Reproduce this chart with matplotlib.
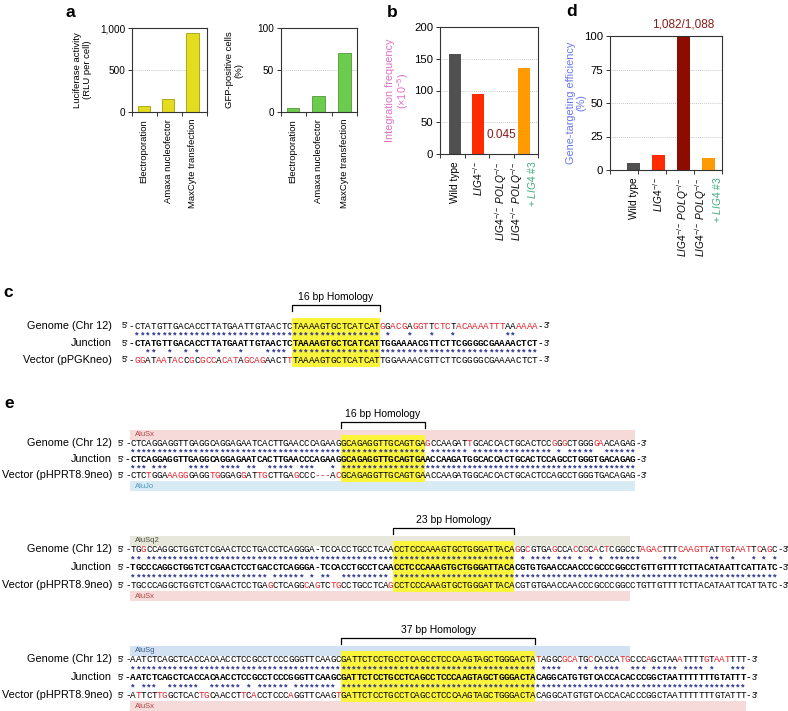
import numpy as np
import matplotlib
matplotlib.use('Agg')
import matplotlib.pyplot as plt
from matplotlib import transforms
from matplotlib.patches import Rectangle

plt.rcParams['font.family'] = ['Liberation Sans', 'DejaVu Sans']
plt.rcParams['mathtext.fontset'] = 'custom'
plt.rcParams['mathtext.rm'] = 'Liberation Sans'
plt.rcParams['mathtext.it'] = 'Liberation Sans:italic'
plt.rcParams['mathtext.bf'] = 'Liberation Sans:bold'

W, H = 788, 711

# panel a
methods = ['Electroporation', 'Amaxa nucleofector', 'MaxCyte transfection']
luciferase = [70, 155, 940]
gfp_positive = [5, 19, 70]

# panels b and d
genotypes = ['Wild type',
             r'$\mathit{LIG4}^{-/-}$',
             r'$\mathit{LIG4}^{-/-}\ \mathit{POLQ}^{-/-}$',
             r'$\mathit{LIG4}^{-/-}\ \mathit{POLQ}^{-/-}$']
rescue_note = r'+ $\mathit{LIG4}$ #3'
integration_freq = [157, 95, 0.045, 135]
targeting_eff = [5.2, 11, 99.4, 9]
genotype_colors = ['#505050', '#ff2a00', '#8c0d00', '#ff9a00']

# panel c / e alignments
row_names = ['Genome (Chr 12)', 'Junction']
c_vector_name = 'Vector (pPGKneo)'
e_vector_name = 'Vector (pHPRT8.9neo)'

c_genome = 'CTATGTTGACACCTTATGAATTGTAACTC' + 'TAAAAGTGCTCATCAT' + 'GGACGAGGTTCTCTACAAAATTTAAAAAA'
c_junction = 'CTATGTTGACACCTTATGAATTGTAACTC' + 'TAAAAGTGCTCATCAT' + 'TGGAAAACGTTCTTCGGGGCGAAAACTCT'
c_vector = 'GGATAATACCGCGCCACATAGCAGAACTT' + 'TAAAAGTGCTCATCAT' + 'TGGAAAACGTTCTTCGGGGCGAAAACTCT'
c_homology = (29, 16)

e1_genome = 'CTCAGGAGGTTGAGGCAGGAGAATCACTTGAACCCAGAAG' + 'GCAGAGGTTGCAGTGA' + 'GCCAAGATTGCACCACTGCACTCCGGGCTGGGGAACAGAG'
e1_junction = 'CTCAGGAGGTTGAGGCAGGAGAATCACTTGAACCCAGAAG' + 'GCAGAGGTTGCAGTGA' + 'ACCAAGATGGCACCACTGCACTCCAGCCTGGGTGACAGAG'
e1_vector = 'CTCTGGAAAGGGAGGTGGGAGGATTGCTTGAGCCC---AC' + 'GCAGAGGTTGCAGTGA' + 'ACCAAGATGGCACCACTGCACTCCAGCCTGGGTGACAGAG'
e1_homology = (40, 16)
e1_alu = [('AluSx', 'top', 0, 96), ('AluJo', 'bottom', 0, 96)]

e2_genome = 'TGGCCAGGCTGGTCTCGAACTCCTGACCTCAGGGA-TCCACCTGCCTCAA' + 'CCTCCCAAAGTGCTGGGATTACA' + 'GGCGTGAGCCACCGCACTCGGCCTAGACTTTCAAGTTATTGTAATTCAGC'
e2_junction = 'TGCCCAGGCTGGTCTCGAACTCCTGACCTCAGGGA-TCCACCTGCCTCAA' + 'CCTCCCAAAGTGCTGGGATTACA' + 'CGTGTGAACCAACCCGCCCGGCCTGTTGTTTTCTTACATAATTCATTATC'
e2_vector = 'TGCCCAGGCTGGTCTCGAACTCCTGAGCTCAGGCAGTCTGCCTGCCTCAG' + 'CCTCCCAAAGTGCTGGGATTACA' + 'CGTGTGAACCAACCCGCCCGGCCTGTTGTTTTCTTACATAATTCATTATC'
e2_homology = (50, 23)
e2_alu = [('AluSq2', 'top', 0, 95), ('AluSx', 'bottom', 0, 95)]

e3_genome = 'AATCTCAGCTCACCACAACCTCCGCCTCCCGGGTTCAAGC' + 'GATTCTCCTGCCTCAGCCTCCCAAGTAGCTGGGACTA' + 'TAGGCGCATGCCACCATGCCCAGCTAAATTTTGTAATTTT'
e3_junction = 'AATCTCAGCTCACCACAACCTCCGCCTCCCGGGTTCAAGC' + 'GATTCTCCTGCCTCAGCCTCCCAAGTAGCTGGGACTA' + 'CAGGCATGTGTCACCACACCCGGCTAATTTTTTTGTATTT'
e3_vector = 'ATTCTTGGCTCACTGCAACCTTCACCTCCCAGGTTCAAGT' + 'GATTCTCCTGCCTCAGCCTCCCAAGTAGCTGGGACTA' + 'CAGGCATGTGTCACCACACCCGGCTAATTTTTTTGTATTT'
e3_homology = (40, 37)
e3_alu = [('AluSg', 'top', 0, 95), ('AluSx', 'bottom', 0, 117)]

ALU_COLORS = {'AluSx': ('#f6d9d9', '#b04848'), 'AluJo': ('#d8eaf4', '#4a95c2'),
              'AluSq2': ('#e7e7dc', '#4a4a38'), 'AluSg': ('#d2e2f3', '#3a5c86')}
RED = '#e3222b'
STAR = '#2c318f'
MONO = 'Liberation Mono'
SEQ_FS = 6.7

fig = plt.figure(figsize=(W / 100, H / 100), dpi=100)


def px_axes(l, t, r, b):
    return fig.add_axes([l / W, 1 - b / H, (r - l) / W, (b - t) / H])


def bar_panel(ax, values, colors, xlim, ymax, yticks, yticklabels, tick_fs, edge=None):
    x = np.arange(len(values))
    ax.bar(x, values, width=0.5, color=colors, edgecolor=edge,
           linewidth=0.6 if edge else 0, zorder=2)
    ax.set_xlim(*xlim)
    ax.set_ylim(0, ymax)
    ax.set_xticks(x)
    ax.set_xticks(np.linspace(xlim[0], xlim[1], len(values) + 1), minor=True)
    ax.tick_params(axis='x', which='major', length=0, pad=5)
    ax.tick_params(axis='x', which='minor', length=3, width=0.7, direction='out', color='#333333')
    ax.set_yticks(yticks)
    ax.set_yticklabels(yticklabels, fontsize=tick_fs)
    ax.tick_params(axis='y', length=3, width=0.7, direction='out', pad=2, color='#333333')
    for yv in yticks[1:-1]:
        ax.axhline(yv, color='#b5b5b5', lw=0.6, ls=(0, (1, 1.5)), zorder=1)
    for sp in ax.spines.values():
        sp.set_linewidth(0.8)
        sp.set_color('#333333')


def side_label(ax, xfrac, text, color, fs):
    ax.text(xfrac, 0.5, text, transform=ax.transAxes, rotation=90, ha='center',
            va='center', fontsize=fs, color=color, linespacing=1.05)


# ---- a ----
ax_luc = px_axes(132, 28, 207, 112)
bar_panel(ax_luc, luciferase, '#e4dc1e', (-0.5, 2.6), 1000, [0, 500, 1000],
          ['0', '500', '1,000'], 7.2, edge='#a39d10')
ax_luc.set_xticklabels(methods, rotation=90, fontsize=6.8)
side_label(ax_luc, -0.66, 'Luciferase activity\n(RLU per cell)', 'black', 6.8)

ax_gfp = px_axes(281, 28, 357, 112)
bar_panel(ax_gfp, gfp_positive, '#6ccc4e', (-0.47, 2.5), 100, [0, 50, 100],
          ['0', '50', '100'], 7.2, edge='#4f9a36')
ax_gfp.set_xticklabels(methods, rotation=90, fontsize=6.8)
side_label(ax_gfp, -0.62, 'GFP-positive cells\n(%)', 'black', 6.8)


def genotype_labels(ax):
    ax.set_xticklabels(genotypes[:3] + [''], rotation=90, fontsize=7.3)
    base = transforms.blended_transform_factory(ax.transData, ax.transAxes)
    last = len(genotypes) - 1
    ax.text(last, 0, genotypes[last], rotation=90, ha='center', va='top', fontsize=7.3,
            transform=transforms.offset_copy(base, fig=fig, x=-5, y=-5, units='points'))
    ax.text(last, 0, rescue_note, rotation=90, ha='center', va='top', fontsize=7.3,
            color='#3dae7a',
            transform=transforms.offset_copy(base, fig=fig, x=6, y=-5, units='points'))


# ---- b ----
ax_int = px_axes(440, 27, 538, 154)
bar_panel(ax_int, integration_freq, genotype_colors, (-0.65, 3.6), 200,
          [0, 50, 100, 150, 200], ['0', '50', '100', '150', '200'], 8.2)
genotype_labels(ax_int)
side_label(ax_int, -0.43, 'Integration frequency\n(×10$^{-5}$)', '#e070c4', 7.8)
ax_int.annotate(f'{integration_freq[2]}', xy=(2, integration_freq[2]), xytext=(0, 14),
                textcoords='offset points', ha='center', va='center', fontsize=8.5,
                color='#8c1a1a')

# ---- d ----
ax_gt = px_axes(610, 36, 722, 170)
bar_panel(ax_gt, targeting_eff, genotype_colors, (-0.95, 3.55), 100,
          [0, 25, 50, 75, 100], ['0', '25', '50', '75', '100'], 8.2)
genotype_labels(ax_gt)
side_label(ax_gt, -0.3, 'Gene-targeting efficiency\n(%)', '#6677ee', 7.8)
ax_gt.annotate('1,082/1,088', xy=(2, targeting_eff[2]), xytext=(0, 9),
               textcoords='offset points', ha='center', va='center', fontsize=8.5,
               color='#8c1a1a', annotation_clip=False)

# ---- c / e overlay ----
ov = fig.add_axes([0, 0, 1, 1], zorder=-1)
ov.set_xlim(0, W)
ov.set_ylim(H, 0)
ov.axis('off')

for letter, x, y in [('a', 66, 17), ('b', 387, 17), ('d', 566, 16), ('c', 3, 297), ('e', 4, 408)]:
    ov.text(x, y, letter, fontsize=12.5, fontweight='bold', ha='left', va='baseline')


def draw_alignment(x0, cw, ys, names, seqs, homology, bands=()):
    g_y, j_y, v_y = ys
    junction = seqs[1]
    n = len(junction)
    hs, hl = homology
    left = x0 + (hs - 0.5) * cw
    right = x0 + (hs + hl - 0.5) * cw
    for name, where, i0, i1 in bands:
        bg, fg = ALU_COLORS[name]
        top = g_y - 13 if where == 'top' else v_y + 6
        ov.add_patch(Rectangle((x0 + (i0 - 0.5) * cw, top), (i1 - i0) * cw, 10,
                               color=bg, lw=0, zorder=1))
        ov.text(x0 + (i0 + 0.4) * cw, top + 5, name, color=fg, fontsize=5.5,
                ha='left', va='center', zorder=3)
    ov.add_patch(Rectangle((left, g_y - 8), right - left, v_y - g_y + 15,
                           color='#fbf43c', lw=0, zorder=2))
    by = g_y - 21
    ov.plot([left, left, right, right], [by + 6, by, by, by + 6], color='black', lw=0.9,
            solid_joinstyle='round', zorder=3)
    ov.text((left + right) / 2, g_y - 29, f'{hl} bp Homology', ha='center', va='center',
            fontsize=7.5)

    for r, (y, name, seq) in enumerate(zip(ys, names, seqs)):
        weight = 'bold' if r == 1 else 'normal'
        ov.text(112, y, name, ha='right', va='center', fontsize=7.8)
        ov.text(x0 - 1.6 * cw, y, "5'", ha='right', va='center', fontsize=6.3)
        ov.text(x0 - cw, y + 3, '-', ha='center', va='baseline', family=MONO,
                fontsize=SEQ_FS, fontweight=weight, zorder=3)
        for i, ch in enumerate(seq):
            color = 'black' if (r == 1 or ch == junction[i]) else RED
            ov.text(x0 + i * cw, y + 3, ch, ha='center', va='baseline', family=MONO,
                    fontsize=SEQ_FS, fontweight=weight, color=color, zorder=3)
        ov.text(x0 + n * cw, y + 3, '-', ha='center', va='baseline', family=MONO,
                fontsize=SEQ_FS, fontweight=weight, zorder=3)
        ov.text(x0 + (n + 0.6) * cw, y, "3'", ha='left', va='center', fontsize=6.3)

    for (ya, sa), (yb, sb) in [((g_y, seqs[0]), (j_y, seqs[1])), ((j_y, seqs[1]), (v_y, seqs[2]))]:
        ym = (ya + yb) / 2
        for i in range(n):
            if sa[i] == sb[i]:
                ov.text(x0 + i * cw, ym + 4.5, '*', ha='center', va='baseline', family=MONO,
                        fontsize=SEQ_FS, color=STAR, fontweight='bold', zorder=3)


draw_alignment(137, 5.45, (326, 343, 360), row_names + [c_vector_name],
               (c_genome, c_junction, c_vector), c_homology)
draw_alignment(133, 5.26, (443, 459, 475), row_names + [e_vector_name],
               (e1_genome, e1_junction, e1_vector), e1_homology, e1_alu)
draw_alignment(133, 5.26, (549, 567, 585), row_names + [e_vector_name],
               (e2_genome, e2_junction, e2_vector), e2_homology, e2_alu)
draw_alignment(133, 5.26, (659, 677, 695), row_names + [e_vector_name],
               (e3_genome, e3_junction, e3_vector), e3_homology, e3_alu)

fig.savefig('out.png', dpi=100)
